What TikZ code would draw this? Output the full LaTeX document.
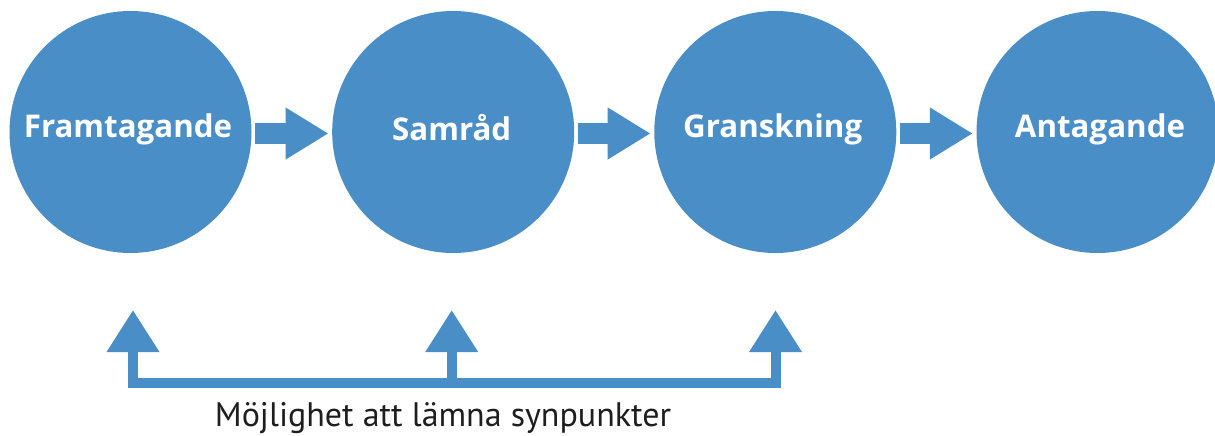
\documentclass[tikz,border=0pt]{standalone}
\usepackage{fontspec}
\setmainfont{Open Sans}
\newfontfamily\titlefont{Open Sans}
\newfontfamily\notefont{PT Sans}
\usetikzlibrary{arrows.meta}
\definecolor{stepblue}{RGB}{74,142,199}
\definecolor{notegray}{RGB}{30,30,30}
\tikzset{
  stage/.style={circle, fill=stepblue, minimum size=242pt, inner sep=0pt},
  stagelabel/.style={text=white, anchor=base, inner sep=0pt,
    font=\titlefont\bfseries\fontsize{31.3}{31.3}\selectfont},
  flowarrow/.style={draw=stepblue, line width=21pt,
    -{Triangle[length=43pt, width=49pt]}},
  uparrow/.style={draw=stepblue, line width=10pt,
    -{Triangle[length=42pt, width=50pt]}},
  barline/.style={draw=stepblue, line width=10pt},
}
\begin{document}
\begin{tikzpicture}[x=1pt, y=-1pt]
\useasboundingbox (0,0) rectangle (1215,436);
\node[stage] (c1) at (130.5,132) {};
\node[stage] (c2) at (453.2,132) {};
\node[stage] (c3) at (775.3,132) {};
\node[stage] (c4) at (1097.5,132) {};
\node[stagelabel] (l1) at (128,137) {Framtagande};
\node[stagelabel] (l2) at (451.7,140) {Samråd};
\node[stagelabel] (l3) at (772.7,137) {Granskning};
\node[stagelabel] (l4) at (1100,137) {Antagande};
\draw[flowarrow] ([shift={(3.5,1.5)}]c1.east) -- ([shift={(-3.5,1.5)}]c2.west);
\draw[flowarrow] ([shift={(3.5,1.5)}]c2.east) -- ([shift={(-3.5,1.5)}]c3.west);
\draw[flowarrow] ([shift={(3.5,1.5)}]c3.east) -- ([shift={(-3.5,1.5)}]c4.west);
\coordinate (b1) at (133,383);
\coordinate (b2) at (451.7,383);
\coordinate (b3) at (775.5,383);
\coordinate (t1) at (133,310);
\coordinate (t2) at (451.7,310);
\coordinate (t3) at (775.5,310);
\draw[barline] ([xshift=-4.7pt]b1) -- ([xshift=5.2pt]b3);
\draw[uparrow] (b1) -- (t1);
\draw[uparrow] (b2) -- (t2);
\draw[uparrow] (b3) -- (t3);
\node[text=notegray, inner sep=0pt, font=\notefont\fontsize{34}{34}\selectfont, anchor=base] (note) at (443,426.5) {Möjlighet att lämna synpunkter};
\end{tikzpicture}
\end{document}
